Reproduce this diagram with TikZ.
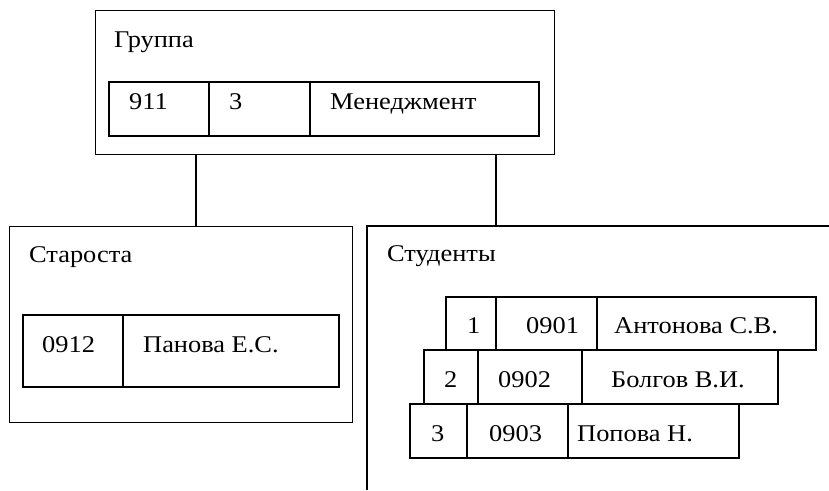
\documentclass[tikz,border=0pt]{standalone}
\usepackage{fontspec}
\setmainfont{Liberation Serif}[FakeStretch=1.1]
\begin{document}
\begin{tikzpicture}[x=1pt,y=-1pt,
  frame/.style={draw, line width=1.2pt, inner sep=0pt, anchor=north west},
  cell/.style={draw, line width=1.2pt},
  link/.style={line width=1.2pt},
  lbl/.style={anchor=base west, inner sep=0pt, font=\fontsize{24}{28}\selectfont}]
\useasboundingbox (0,0) rectangle (829,490);

% outer frames
\node[frame, minimum width=459pt, minimum height=144pt] (grp) at (95,10) {};
\node[frame, minimum width=343pt, minimum height=196pt] (star) at (9,226) {};
\coordinate (stuTL) at (367,226);
\coordinate (stuTR) at (829,226);
\coordinate (stuBL) at (367,490);
\draw[link] (stuTR) -- (stuTL) -- (stuBL);

% links from the group frame
\coordinate (x1) at (196,0);
\coordinate (x2) at (496,0);
\draw[link] (grp.south -| x1) -- (star.north -| x1);
\draw[link] (grp.south -| x2) -- (stuTL -| x2);

% group record
\node[lbl] (tGrp) at (114,47) {Группа};
\draw[cell] (109,82) rectangle (539,136);
\draw[cell] (209,82) -- (209,136);
\draw[cell] (310,82) -- (310,136);
\node[lbl] (g1) at (129,109) {911};
\node[lbl] (g2) at (229,109) {3};
\node[lbl] (g3) at (330,109) {Менеджмент};

% head of group record
\node[lbl] (tStar) at (29,262) {Староста};
\draw[cell] (23,315) rectangle (339,387);
\draw[cell] (123,315) -- (123,387);
\node[lbl] (s1) at (42,352) {0912};
\node[lbl] (s2) at (143,352) {Панова Е.С.};

% student records
\node[lbl] (tStu) at (387,261) {Студенты};

\draw[cell] (446,297) rectangle (816,350);
\draw[cell] (496,297) -- (496,350);
\draw[cell] (597,297) -- (597,350);
\node[lbl] (r1a) at (467,333) {1};
\node[lbl] (r1b) at (526,333) {0901};
\node[lbl] (r1c) at (614,333) {Антонова С.В.};

\draw[cell] (424,350) rectangle (778,404);
\draw[cell] (478,350) -- (478,404);
\draw[cell] (582,350) -- (582,404);
\node[lbl] (r2a) at (444,387) {2};
\node[lbl] (r2b) at (498,387) {0902};
\node[lbl] (r2c) at (611,387) {Болгов В.И.};

\draw[cell] (410,404) rectangle (739,458);
\draw[cell] (467,404) -- (467,458);
\draw[cell] (568,404) -- (568,458);
\node[lbl] (r3a) at (431,441) {3};
\node[lbl] (r3b) at (489,441) {0903};
\node[lbl] (r3c) at (577,441) {Попова Н.};
\end{tikzpicture}
\end{document}
